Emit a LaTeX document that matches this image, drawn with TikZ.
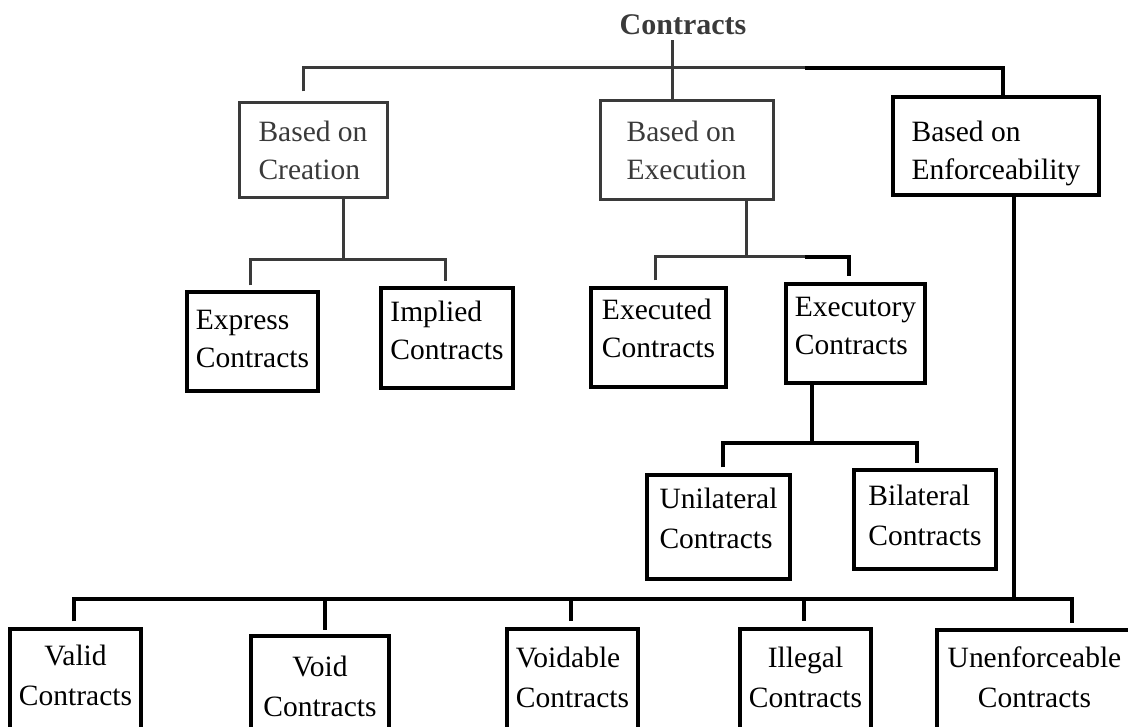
\documentclass[tikz,border=0pt]{standalone}
\usepackage{fontspec}
\setmainfont{Liberation Serif}
\definecolor{inkgray}{HTML}{3A3A3A}
\begin{document}
\begin{tikzpicture}[x=1pt,y=-1pt,
  boxbase/.style={rectangle, inner xsep=2pt, inner ysep=0pt, anchor=base,
    font=\fontsize{29.5}{38}\selectfont},
  graybox/.style={boxbase, draw=inkgray, text=inkgray, line width=3pt, align=left},
  leftbox/.style={boxbase, draw=black, line width=3.3pt, align=left},
  centerbox/.style={boxbase, draw=black, line width=3.3pt, align=center,
    font=\fontsize{29.5}{40}\selectfont},
  lowleftbox/.style={leftbox, font=\fontsize{29.5}{40}\selectfont},
  gline/.style={draw=inkgray, line width=3pt},
  kline/.style={draw=black, line width=3.3pt},
]
\useasboundingbox (0,0) rectangle (1128,727);
\clip (0,0) rectangle (1128,727);

% root
\node[font=\fontsize{30}{36}\selectfont\bfseries, text=inkgray, anchor=base,
      inner xsep=0pt, inner ysep=5pt] (title) at (683,35) {Contracts};

% first level (node base = baseline of the last text line)
\node[graybox, minimum width=148pt, text height=77pt, text depth=18pt]
  (creation) at (313,180) {Based on\\Creation};
\node[graybox, minimum width=173pt, text height=79pt, text depth=20pt]
  (execution) at (686.5,180) {Based on\\Execution};
\node[leftbox, minimum width=206pt, text height=83pt, text depth=15pt]
  (enforce) at (996,180) {Based on\\Enforceability};

% by creation
\node[leftbox, minimum width=131pt, text height=76pt, text depth=23pt]
  (express) at (252.5,368) {Express\\Contracts};
\node[leftbox, minimum width=132pt, text height=72pt, text depth=28pt]
  (implied) at (447,360) {Implied\\Contracts};

% by execution
\node[leftbox, minimum width=135pt, text height=70pt, text depth=29pt]
  (executed) at (658.5,358) {Executed\\Contracts};
\node[leftbox, minimum width=139pt, text height=71pt, text depth=28pt]
  (executory) at (855.5,355) {Executory\\Contracts};
\node[lowleftbox, minimum width=143pt, text height=73pt, text depth=31pt]
  (unilateral) at (718.5,548) {Unilateral\\Contracts};
\node[lowleftbox, minimum width=142pt, text height=75pt, text depth=24pt]
  (bilateral) at (925,545) {Bilateral\\Contracts};

% by enforceability
\node[centerbox, minimum width=131pt, text height=76pt, text depth=55pt]
  (valid) at (75.5,705) {Valid\\Contracts};
\node[centerbox, minimum width=138pt, text height=80pt, text depth=44pt]
  (void) at (320,716) {Void\\Contracts};
\node[lowleftbox, minimum width=131pt, text height=78pt, text depth=53pt]
  (voidable) at (572.5,707) {Voidable\\Contracts};
\node[centerbox, minimum width=131pt, text height=78pt, text depth=53pt]
  (illegal) at (805.5,707) {Illegal\\Contracts};
\node[centerbox, minimum width=195pt, text height=77pt, text depth=53pt]
  (unenf) at (1034.5,707) {Unenforceable\\Contracts};

% junction points of the bars
\coordinate (tj) at (672,68);
\coordinate (tl) at (303,68);
\coordinate (tk) at (805,68);
\coordinate (tr) at (1003,68);
\coordinate (cj) at (343,260);
\coordinate (cl) at (250,260);
\coordinate (cr) at (445,260);
\coordinate (ej) at (746,257);
\coordinate (el) at (655,257);
\coordinate (ek) at (805,257);
\coordinate (er) at (849,257);
\coordinate (xj) at (812,443);
\coordinate (xl) at (723,443);
\coordinate (xr) at (917,443);
\coordinate (fj) at (1014,599);
\coordinate (f1) at (74,599);
\coordinate (f2) at (325,599);
\coordinate (f3) at (571,599);
\coordinate (f4) at (804,599);
\coordinate (f5) at (1072,599);

% root to first level
\draw[gline] (title.south -| tj) -- (execution.north -| tj);
\draw[gline] ([yshift=10pt]creation.north -| tl) -- (tl) -- (tk);
\draw[kline] (tk) -- (tr) -- (enforce.north -| tr);

% creation branch
\draw[gline] (creation.south -| cj) -- (cj);
\draw[gline] ([yshift=5pt]express.north -| cl) -- (cl) -- (cr)
  -- ([yshift=5pt]implied.north -| cr);

% execution branch
\draw[gline] (execution.south -| ej) -- (ej);
\draw[gline] ([yshift=6pt]executed.north -| el) -- (el) -- (ek);
\draw[kline] (ek) -- (er) -- ([yshift=6pt]executory.north -| er);

% executory contracts
\draw[kline] (executory.south -| xj) -- (xj);
\draw[kline] ([yshift=6pt]unilateral.north -| xl) -- (xl) -- (xr)
  -- ([yshift=5pt]bilateral.north -| xr);

% enforceability branch
\draw[kline] (enforce.south -| fj) -- (fj);
\draw[kline] ([yshift=6pt]valid.north -| f1) -- (f1) -- (f5)
  -- ([yshift=5pt]unenf.north -| f5);
\draw[kline] (f2) -- ([yshift=4pt]void.north -| f2);
\draw[kline] (f3) -- ([yshift=6pt]voidable.north -| f3);
\draw[kline] (f4) -- ([yshift=6pt]illegal.north -| f4);
\end{tikzpicture}
\end{document}
